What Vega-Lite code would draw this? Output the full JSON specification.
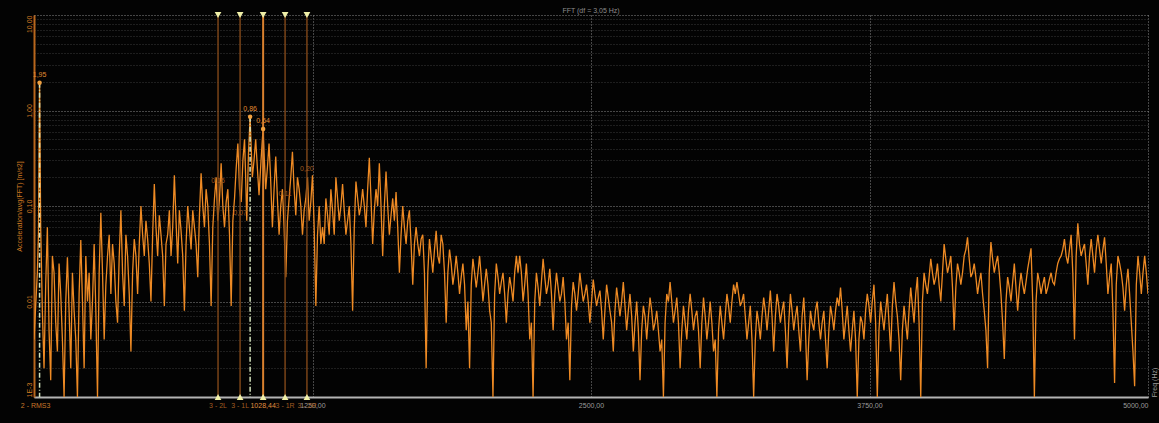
{
  "$schema": "https://vega.github.io/schema/vega-lite/v6.json",
  "width": 1114,
  "height": 382,
  "autosize": {"type": "none"},
  "padding": {"left": 34, "top": 15, "right": 11, "bottom": 26},
  "background": "#030303",
  "config": {"view": {"stroke": null}, "font": "Liberation Sans"},
  "title": {"text": "FFT (df = 3,05 Hz)", "fontSize": 7, "color": "#8c8c8c", "fontWeight": "normal", "offset": -2, "anchor": "middle", "frame": "group"},
  "datasets": {
    "fft": [
      {"f":0,"a":0.004},{"f":7.5,"a":0.009},{"f":15,"a":0.02},{"f":20,"a":0.05},{"f":25,"a":1.95},{"f":30,"a":0.06},{"f":37.5,"a":0.008},{"f":45,"a":0.002},{"f":52.5,"a":0.015},{"f":60,"a":0.06},{"f":67.5,"a":0.005},{"f":75,"a":0.0015},{"f":82.5,"a":0.03},{"f":90,"a":0.02},{"f":97.5,"a":0.006},{"f":105,"a":0.003},{"f":112.5,"a":0.025},{"f":120,"a":0.012},{"f":127.5,"a":0.004},{"f":135,"a":0.001},{"f":142.5,"a":0.01},{"f":150,"a":0.029},{"f":157.5,"a":0.008},{"f":165,"a":0.002},{"f":172.5,"a":0.02},{"f":180,"a":0.008},{"f":187.5,"a":0.004},{"f":195,"a":0.001},{"f":202.5,"a":0.012},{"f":210,"a":0.044},{"f":217.5,"a":0.01},{"f":225,"a":0.002},{"f":232.5,"a":0.03},{"f":240,"a":0.01},{"f":247.5,"a":0.02},{"f":255,"a":0.004},{"f":262.5,"a":0.01},{"f":270,"a":0.04},{"f":277.5,"a":0.008},
      {"f":285,"a":0.001},{"f":292.5,"a":0.02},{"f":300,"a":0.085},{"f":307.5,"a":0.02},{"f":315,"a":0.004},{"f":322.5,"a":0.015},{"f":330,"a":0.03},{"f":337.5,"a":0.05},{"f":345,"a":0.012},{"f":352.5,"a":0.04},{"f":360,"a":0.025},{"f":367.5,"a":0.01},{"f":375,"a":0.006},{"f":382.5,"a":0.03},{"f":390,"a":0.09},{"f":397.5,"a":0.02},{"f":405,"a":0.009},{"f":412.5,"a":0.05},{"f":420,"a":0.03},{"f":427.5,"a":0.012},{"f":435,"a":0.003},{"f":442.5,"a":0.02},
      {"f":450,"a":0.045},{"f":457.5,"a":0.03},{"f":465,"a":0.012},{"f":472.5,"a":0.04},{"f":480,"a":0.1},{"f":487.5,"a":0.05},{"f":495,"a":0.03},{"f":502.5,"a":0.07},{"f":510,"a":0.045},{"f":517.5,"a":0.025},{"f":525,"a":0.01},{"f":532.5,"a":0.05},{"f":540,"a":0.17},{"f":547.5,"a":0.06},{"f":555,"a":0.03},{"f":562.5,"a":0.08},{"f":570,"a":0.05},{"f":577.5,"a":0.03},{"f":585,"a":0.009},{"f":592.5,"a":0.04},{"f":600,"a":0.05},{"f":607.5,"a":0.09},{"f":615,"a":0.03},{"f":622.5,"a":0.06},{"f":630,"a":0.21},{"f":637.5,"a":0.07},{"f":645,"a":0.025},{"f":652.5,"a":0.09},{"f":660,"a":0.055},{"f":667.5,"a":0.03},{"f":675,"a":0.008},{"f":682.5,"a":0.04},{"f":690,"a":0.1},{"f":697.5,"a":0.06},{"f":705,"a":0.035},{"f":712.5,"a":0.09},{"f":720,"a":0.06},{"f":727.5,"a":0.04},{"f":735,"a":0.018},{"f":742.5,"a":0.08},
      {"f":750,"a":0.22},{"f":757.5,"a":0.1},{"f":765,"a":0.06},{"f":772.5,"a":0.15},{"f":780,"a":0.1},{"f":787.5,"a":0.04},{"f":795,"a":0.009},{"f":802.5,"a":0.06},{"f":810,"a":0.12},{"f":817.5,"a":0.2},{"f":825,"a":0.07},{"f":832.5,"a":0.12},{"f":840,"a":0.28},{"f":847.5,"a":0.1},{"f":855,"a":0.06},{"f":862.5,"a":0.11},{"f":870,"a":0.15},{"f":877.5,"a":0.05},{"f":885,"a":0.009},{"f":892.5,"a":0.07},
      {"f":900,"a":0.12},{"f":907.5,"a":0.25},{"f":915,"a":0.45},{"f":922.5,"a":0.15},{"f":930,"a":0.11},{"f":937.5,"a":0.3},{"f":945,"a":0.5},{"f":950,"a":0.2},{"f":955,"a":0.07},{"f":962.5,"a":0.35},{"f":970,"a":0.86},{"f":975,"a":0.4},{"f":980,"a":0.2},{"f":987.5,"a":0.3},{"f":995,"a":0.5},{"f":1002.5,"a":0.25},{"f":1010,"a":0.13},{"f":1019,"a":0.3},{"f":1028,"a":0.64},{"f":1034,"a":0.3},{"f":1040,"a":0.15},{"f":1047.5,"a":0.25},{"f":1055,"a":0.45},{"f":1062.5,"a":0.18},{"f":1070,"a":0.06},{"f":1077.5,"a":0.15},
      {"f":1085,"a":0.33},{"f":1092.5,"a":0.12},{"f":1100,"a":0.05},{"f":1107.5,"a":0.1},{"f":1115,"a":0.15},{"f":1122.5,"a":0.06},{"f":1130,"a":0.018},{"f":1137.5,"a":0.07},{"f":1145,"a":0.12},{"f":1152.5,"a":0.2},{"f":1160,"a":0.37},{"f":1167.5,"a":0.15},{"f":1175,"a":0.08},{"f":1182.5,"a":0.2},{"f":1190,"a":0.15},{"f":1197.5,"a":0.1},{"f":1205,"a":0.05},{"f":1212.5,"a":0.09},{"f":1220,"a":0.12},{"f":1227.5,"a":0.2},{"f":1235,"a":0.07},{"f":1242.5,"a":0.11},{"f":1250,"a":0.21},{"f":1257.5,"a":0.06},{"f":1265,"a":0.009},{"f":1272.5,"a":0.05},{"f":1280,"a":0.1},{"f":1287.5,"a":0.04},
      {"f":1295,"a":0.06},{"f":1302.5,"a":0.04},{"f":1310,"a":0.12},{"f":1317.5,"a":0.08},{"f":1325,"a":0.05},{"f":1332.5,"a":0.15},{"f":1340,"a":0.09},{"f":1347.5,"a":0.05},{"f":1355,"a":0.2},{"f":1362.5,"a":0.12},{"f":1370,"a":0.07},{"f":1377.5,"a":0.1},{"f":1385,"a":0.17},{"f":1392.5,"a":0.09},{"f":1400,"a":0.05},{"f":1407.5,"a":0.07},{"f":1415,"a":0.1},{"f":1422.5,"a":0.04},{"f":1430,"a":0.008},{"f":1437.5,"a":0.06},{"f":1445,"a":0.18},{"f":1452.5,"a":0.12},{"f":1460,"a":0.08},{"f":1467.5,"a":0.1},{"f":1475,"a":0.15},{"f":1482.5,"a":0.1},{"f":1490,"a":0.06},{"f":1497.5,"a":0.15},{"f":1505,"a":0.32},{"f":1512.5,"a":0.12},{"f":1520,"a":0.04},{"f":1527.5,"a":0.09},{"f":1535,"a":0.15},{"f":1542.5,"a":0.1},{"f":1550,"a":0.28},{"f":1557.5,"a":0.1},{"f":1565,"a":0.03},{"f":1572.5,"a":0.1},{"f":1580,"a":0.23},{"f":1587.5,"a":0.1},{"f":1595,"a":0.05},{"f":1602.5,"a":0.08},{"f":1610,"a":0.12},{"f":1617.5,"a":0.07},{"f":1625,"a":0.14},{"f":1632.5,"a":0.06},{"f":1640,"a":0.02},{"f":1647.5,"a":0.05},{"f":1655,"a":0.1},{"f":1662.5,"a":0.06},{"f":1670,"a":0.04},{"f":1677.5,"a":0.07},{"f":1685,"a":0.09},{"f":1692.5,"a":0.04},{"f":1700,"a":0.015},{"f":1707.5,"a":0.04},
      {"f":1715,"a":0.06},{"f":1722.5,"a":0.04},{"f":1730,"a":0.03},{"f":1737.5,"a":0.045},{"f":1745,"a":0.05},{"f":1752.5,"a":0.02},{"f":1760,"a":0.002},{"f":1767.5,"a":0.02},{"f":1775,"a":0.045},{"f":1782.5,"a":0.03},{"f":1790,"a":0.02},{"f":1797.5,"a":0.035},{"f":1805,"a":0.055},{"f":1812.5,"a":0.03},{"f":1820,"a":0.025},{"f":1827.5,"a":0.05},{"f":1835,"a":0.04},{"f":1842.5,"a":0.02},{"f":1850,"a":0.006},{"f":1857.5,"a":0.02},{"f":1865,"a":0.035},{"f":1872.5,"a":0.025},{"f":1880,"a":0.015},{"f":1887.5,"a":0.02},
      {"f":1895,"a":0.03},{"f":1902.5,"a":0.02},{"f":1910,"a":0.012},{"f":1917.5,"a":0.018},{"f":1925,"a":0.025},{"f":1932.5,"a":0.015},{"f":1940,"a":0.005},{"f":1947.5,"a":0.01},{"f":1955,"a":0.002},{"f":1962.5,"a":0.015},{"f":1970,"a":0.028},{"f":1977.5,"a":0.02},{"f":1985,"a":0.014},{"f":1992.5,"a":0.02},{"f":2000,"a":0.03},{"f":2007.5,"a":0.018},{"f":2015,"a":0.01},{"f":2022.5,"a":0.015},{"f":2030,"a":0.022},{"f":2037.5,"a":0.015},{"f":2045,"a":0.008},{"f":2052.5,"a":0.006},{"f":2060,"a":0.001},{"f":2067.5,"a":0.012},{"f":2075,"a":0.025},{"f":2082.5,"a":0.018},{"f":2090,"a":0.012},{"f":2097.5,"a":0.016},{"f":2105,"a":0.02},{"f":2112.5,"a":0.012},{"f":2120,"a":0.006},{"f":2127.5,"a":0.012},{"f":2135,"a":0.018},{"f":2142.5,"a":0.014},{"f":2150,"a":0.01},{"f":2157.5,"a":0.02},{"f":2165,"a":0.03},{"f":2172.5,"a":0.02},
      {"f":2180,"a":0.03},{"f":2187.5,"a":0.02},{"f":2195,"a":0.01},{"f":2202.5,"a":0.015},{"f":2210,"a":0.025},{"f":2217.5,"a":0.012},{"f":2225,"a":0.004},{"f":2232.5,"a":0.006},{"f":2240,"a":0.001},{"f":2247.5,"a":0.01},{"f":2255,"a":0.02},{"f":2262.5,"a":0.014},{"f":2270,"a":0.009},{"f":2277.5,"a":0.016},{"f":2285,"a":0.028},{"f":2292.5,"a":0.018},{"f":2300,"a":0.012},{"f":2307.5,"a":0.015},{"f":2315,"a":0.022},{"f":2322.5,"a":0.012},{"f":2330,"a":0.005},{"f":2337.5,"a":0.012},{"f":2345,"a":0.02},{"f":2352.5,"a":0.014},{"f":2360,"a":0.01},{"f":2367.5,"a":0.012},{"f":2375,"a":0.018},{"f":2382.5,"a":0.01},{"f":2390,"a":0.004},{"f":2397.5,"a":0.006},{"f":2405,"a":0.0015},{"f":2412.5,"a":0.009},{"f":2420,"a":0.016},{"f":2427.5,"a":0.012},{"f":2435,"a":0.008},{"f":2442.5,"a":0.012},{"f":2450,"a":0.02},{"f":2457.5,"a":0.014},{"f":2465,"a":0.01},{"f":2472.5,"a":0.012},{"f":2480,"a":0.015},{"f":2487.5,"a":0.01},{"f":2495,"a":0.006},{"f":2502.5,"a":0.01},{"f":2510,"a":0.017},{"f":2517.5,"a":0.012},{"f":2525,"a":0.009},{"f":2532.5,"a":0.011},{"f":2540,"a":0.013},{"f":2547.5,"a":0.008},{"f":2555,"a":0.004},{"f":2562.5,"a":0.008},{"f":2570,"a":0.015},{"f":2577.5,"a":0.011},{"f":2585,"a":0.008},{"f":2592.5,"a":0.006},{"f":2600,"a":0.003},{"f":2607.5,"a":0.008},{"f":2615,"a":0.014},{"f":2622.5,"a":0.01},{"f":2630,"a":0.007},{"f":2637.5,"a":0.01},
      {"f":2645,"a":0.016},{"f":2652.5,"a":0.009},{"f":2660,"a":0.005},{"f":2667.5,"a":0.008},{"f":2675,"a":0.012},{"f":2682.5,"a":0.007},{"f":2690,"a":0.003},{"f":2697.5,"a":0.006},{"f":2705,"a":0.01},{"f":2712.5,"a":0.005},{"f":2720,"a":0.0015},{"f":2727.5,"a":0.005},{"f":2735,"a":0.009},{"f":2742.5,"a":0.007},{"f":2750,"a":0.004},{"f":2757.5,"a":0.007},{"f":2765,"a":0.011},{"f":2772.5,"a":0.008},{"f":2780,"a":0.005},{"f":2787.5,"a":0.006},{"f":2795,"a":0.008},{"f":2802.5,"a":0.005},{"f":2810,"a":0.003},{"f":2817.5,"a":0.004},{"f":2825,"a":0.001},{"f":2832.5,"a":0.006},{"f":2840,"a":0.012},{"f":2847.5,"a":0.01},{"f":2855,"a":0.016},{"f":2862.5,"a":0.01},{"f":2870,"a":0.006},{"f":2877.5,"a":0.008},{"f":2885,"a":0.011},{"f":2892.5,"a":0.006},{"f":2900,"a":0.002},{"f":2907.5,"a":0.005},{"f":2915,"a":0.009},{"f":2922.5,"a":0.006},{"f":2930,"a":0.004},{"f":2937.5,"a":0.008},{"f":2945,"a":0.012},{"f":2952.5,"a":0.008},{"f":2960,"a":0.005},{"f":2967.5,"a":0.007},{"f":2975,"a":0.008},{"f":2982.5,"a":0.005},{"f":2990,"a":0.002},{"f":2997.5,"a":0.006},{"f":3005,"a":0.011},{"f":3012.5,"a":0.007},{"f":3020,"a":0.004},{"f":3027.5,"a":0.006},{"f":3035,"a":0.01},{"f":3042.5,"a":0.006},{"f":3050,"a":0.003},{"f":3057.5,"a":0.004},{"f":3065,"a":0.001},{"f":3072.5,"a":0.005},{"f":3080,"a":0.009},{"f":3087.5,"a":0.006},{"f":3095,"a":0.004},{"f":3102.5,"a":0.007},{"f":3110,"a":0.012},{"f":3117.5,"a":0.009},{"f":3125,"a":0.006},{"f":3132.5,"a":0.01},{"f":3140,"a":0.015},{"f":3147.5,"a":0.012},{"f":3155,"a":0.016},{"f":3162.5,"a":0.012},{"f":3170,"a":0.009},{"f":3177.5,"a":0.01},{"f":3185,"a":0.012},{"f":3192.5,"a":0.007},{"f":3200,"a":0.004},{"f":3207.5,"a":0.006},{"f":3215,"a":0.009},{"f":3222.5,"a":0.004},{"f":3230,"a":0.001},{"f":3237.5,"a":0.004},{"f":3245,"a":0.008},{"f":3252.5,"a":0.006},{"f":3260,"a":0.004},{"f":3267.5,"a":0.007},{"f":3275,"a":0.011},{"f":3282.5,"a":0.008},{"f":3290,"a":0.005},{"f":3297.5,"a":0.008},{"f":3305,"a":0.013},{"f":3312.5,"a":0.007},{"f":3320,"a":0.003},{"f":3327.5,"a":0.007},{"f":3335,"a":0.012},{"f":3342.5,"a":0.009},{"f":3350,"a":0.006},{"f":3357.5,"a":0.008},{"f":3365,"a":0.01},{"f":3372.5,"a":0.005},{"f":3380,"a":0.002},{"f":3387.5,"a":0.006},{"f":3395,"a":0.012},{"f":3402.5,"a":0.008},{"f":3410,"a":0.005},{"f":3417.5,"a":0.007},{"f":3425,"a":0.009},{"f":3432.5,"a":0.005},{"f":3440,"a":0.003},{"f":3447.5,"a":0.007},{"f":3455,"a":0.011},{"f":3462.5,"a":0.005},{"f":3470,"a":0.0015},{"f":3477.5,"a":0.004},{"f":3485,"a":0.008},{"f":3492.5,"a":0.006},{"f":3500,"a":0.005},{"f":3507.5,"a":0.008},{"f":3515,"a":0.01},{"f":3522.5,"a":0.006},{"f":3530,"a":0.004},{"f":3537.5,"a":0.006},{"f":3545,"a":0.008},{"f":3552.5,"a":0.004},{"f":3560,"a":0.002},{"f":3567.5,"a":0.005},{"f":3575,"a":0.009},{"f":3582.5,"a":0.007},{"f":3590,"a":0.005},{"f":3597.5,"a":0.008},{"f":3605,"a":0.011},{"f":3612.5,"a":0.009},{"f":3620,"a":0.014},{"f":3627.5,"a":0.008},{"f":3635,"a":0.004},{"f":3642.5,"a":0.006},{"f":3650,"a":0.009},{"f":3657.5,"a":0.005},{"f":3665,"a":0.003},{"f":3672.5,"a":0.005},{"f":3680,"a":0.008},{"f":3687.5,"a":0.004},{"f":3695,"a":0.001},{"f":3702.5,"a":0.004},{"f":3710,"a":0.007},{"f":3717.5,"a":0.006},{"f":3725,"a":0.004},{"f":3732.5,"a":0.008},{"f":3740,"a":0.012},{"f":3747.5,"a":0.009},
      {"f":3755,"a":0.006},{"f":3762.5,"a":0.01},{"f":3770,"a":0.015},{"f":3777.5,"a":0.006},{"f":3785,"a":0.001},{"f":3792.5,"a":0.005},{"f":3800,"a":0.01},{"f":3807.5,"a":0.007},{"f":3815,"a":0.005},{"f":3822.5,"a":0.008},{"f":3830,"a":0.012},{"f":3837.5,"a":0.006},{"f":3845,"a":0.003},{"f":3852.5,"a":0.009},{"f":3860,"a":0.016},{"f":3867.5,"a":0.01},{"f":3875,"a":0.007},{"f":3882.5,"a":0.004},{"f":3890,"a":0.0015},{"f":3897.5,"a":0.005},{"f":3905,"a":0.009},{"f":3912.5,"a":0.006},{"f":3920,"a":0.004},{"f":3927.5,"a":0.008},{"f":3935,"a":0.014},{"f":3942.5,"a":0.009},
      {"f":3950,"a":0.006},{"f":3957.5,"a":0.012},{"f":3965,"a":0.018},{"f":3972.5,"a":0.006},{"f":3980,"a":0.001},{"f":3987.5,"a":0.01},{"f":3995,"a":0.02},{"f":4002.5,"a":0.015},{"f":4010,"a":0.012},{"f":4017.5,"a":0.018},{"f":4025,"a":0.028},{"f":4032.5,"a":0.02},{"f":4040,"a":0.015},{"f":4047.5,"a":0.018},{"f":4055,"a":0.025},{"f":4062.5,"a":0.015},{"f":4070,"a":0.01},{"f":4077.5,"a":0.02},{"f":4085,"a":0.04},{"f":4092.5,"a":0.028},{"f":4100,"a":0.02},{"f":4107.5,"a":0.024},{"f":4115,"a":0.03},{"f":4122.5,"a":0.014},{"f":4130,"a":0.005},{"f":4137.5,"a":0.014},{"f":4145,"a":0.025},{"f":4152.5,"a":0.02},{"f":4160,"a":0.015},{"f":4167.5,"a":0.02},{"f":4175,"a":0.03},{"f":4182.5,"a":0.035},{"f":4190,"a":0.047},{"f":4197.5,"a":0.028},{"f":4205,"a":0.018},{"f":4212.5,"a":0.02},{"f":4220,"a":0.025},{"f":4227.5,"a":0.018},{"f":4235,"a":0.012},{"f":4242.5,"a":0.016},{"f":4250,"a":0.02},{"f":4257.5,"a":0.012},{"f":4265,"a":0.008},{"f":4272.5,"a":0.005},{"f":4280,"a":0.002},{"f":4287.5,"a":0.02},{"f":4295,"a":0.042},{"f":4302.5,"a":0.028},{"f":4310,"a":0.02},{"f":4317.5,"a":0.025},{"f":4325,"a":0.03},{"f":4332.5,"a":0.02},
      {"f":4340,"a":0.012},{"f":4347.5,"a":0.006},{"f":4355,"a":0.0025},{"f":4362.5,"a":0.01},{"f":4370,"a":0.018},{"f":4377.5,"a":0.014},{"f":4385,"a":0.01},{"f":4392.5,"a":0.016},{"f":4400,"a":0.025},{"f":4407.5,"a":0.014},{"f":4415,"a":0.008},{"f":4422.5,"a":0.014},{"f":4430,"a":0.02},{"f":4437.5,"a":0.015},{"f":4445,"a":0.012},{"f":4452.5,"a":0.016},{"f":4460,"a":0.022},{"f":4467.5,"a":0.028},{"f":4475,"a":0.036},{"f":4482.5,"a":0.01},{"f":4490,"a":0.001},{"f":4497.5,"a":0.01},{"f":4505,"a":0.02},{"f":4512.5,"a":0.016},{"f":4520,"a":0.012},{"f":4527.5,"a":0.015},{"f":4535,"a":0.018},{"f":4542.5,"a":0.012},{"f":4550,"a":0.014},{"f":4557.5,"a":0.017},{"f":4565,"a":0.02},{"f":4572.5,"a":0.016},{"f":4580,"a":0.015},{"f":4587.5,"a":0.02},{"f":4595,"a":0.025},{"f":4602.5,"a":0.028},
      {"f":4610,"a":0.03},{"f":4617.5,"a":0.035},{"f":4625,"a":0.045},{"f":4632.5,"a":0.03},{"f":4640,"a":0.025},{"f":4647.5,"a":0.035},{"f":4655,"a":0.05},{"f":4662.5,"a":0.02},{"f":4670,"a":0.004},{"f":4677.5,"a":0.03},{"f":4685,"a":0.066},{"f":4692.5,"a":0.04},{"f":4700,"a":0.03},{"f":4707.5,"a":0.035},{"f":4715,"a":0.04},{"f":4722.5,"a":0.025},{"f":4730,"a":0.015},{"f":4737.5,"a":0.03},{"f":4745,"a":0.045},{"f":4752.5,"a":0.03},{"f":4760,"a":0.02},{"f":4767.5,"a":0.035},{"f":4775,"a":0.05},{"f":4782.5,"a":0.035},{"f":4790,"a":0.025},{"f":4797.5,"a":0.035},
      {"f":4805,"a":0.047},{"f":4812.5,"a":0.025},{"f":4820,"a":0.012},{"f":4827.5,"a":0.018},{"f":4835,"a":0.025},{"f":4842.5,"a":0.008},{"f":4850,"a":0.0014},{"f":4857.5,"a":0.015},{"f":4865,"a":0.03},{"f":4872.5,"a":0.025},{"f":4880,"a":0.02},{"f":4887.5,"a":0.014},{"f":4895,"a":0.008},{"f":4902.5,"a":0.015},{"f":4910,"a":0.022},{"f":4917.5,"a":0.012},{"f":4925,"a":0.006},{"f":4932.5,"a":0.003},{"f":4940,"a":0.0013},{"f":4947.5,"a":0.015},{"f":4955,"a":0.03},{"f":4962.5,"a":0.02},{"f":4970,"a":0.012},{"f":4977.5,"a":0.02},{"f":4985,"a":0.03},{"f":4992.5,"a":0.02},{"f":5000,"a":0.012}
    ],
    "cursors": [
      {"f":826,"a":0.15,"lbl":"0,15","name":"3 - 2L","main":false},
      {"f":925,"a":0.07,"lbl":"0,07","name":"3 - 1L","main":false},
      {"f":1028.44,"a":0.64,"lbl":"0,64","name":"1028,44","main":true},
      {"f":1127,"a":0.11,"lbl":"0,11","name":"3 - 1R","main":false},
      {"f":1225,"a":0.2,"lbl":"0,20","name":"3 - 2R","main":false}
    ],
    "peaks": [
      {"f":25,"a":1.95,"lbl":"1,95","name":"2 - RMS3"},
      {"f":970,"a":0.86,"lbl":"0,86","name":""}
    ]
  },
  "layer": [
    {
      "data": {"name": "fft"},
      "mark": {"type": "line", "color": "#ee8a24", "strokeWidth": 1.3, "clip": true},
      "encoding": {
        "x": {"field": "f", "type": "quantitative", "scale": {"domain": [0, 5000], "nice": false, "zero": false},
          "axis": {"title": "Freq (Hz)", "values": [0, 1250, 2500, 3750, 5000],
            "labelExpr": "datum.value == 0 ? '' : replace(format(datum.value, '.2f'), '.', ',')",
            "labelColor": "#9c9c9c", "labelFontSize": 7, "labelFlush": true, "labelPadding": 4, "ticks": false,
            "domainColor": "#b4b4b4", "domainWidth": 2, "gridColor": "#8a8a8a", "gridDash": [1, 2],
            "titleAngle": 270, "titleX": 1120, "titleY": -15, "titleAlign": "center", "titleBaseline": "middle",
            "titleColor": "#9c9c9c", "titleFontSize": 7, "titleFontWeight": "normal"}},
        "y": {"field": "a", "type": "quantitative", "scale": {"type": "log", "domain": [0.001, 10], "nice": false},
          "axis": {"title": "Acceleration/avg(FFT) [m/s2]",
            "values": [0.001,0.002,0.003,0.004,0.005,0.006,0.007,0.008,0.009,0.01,0.02,0.03,0.04,0.05,0.06,0.07,0.08,0.09,0.1,0.2,0.3,0.4,0.5,0.6,0.7,0.8,0.9,1,2,3,4,5,6,7,8,9,10],
            "labelExpr": "datum.value == 0.001 ? '1E-3' : (indexof([0.01,0.1,1,10], datum.value) >= 0 ? replace(format(datum.value, '.2f'), '.', ',') : '')",
            "labelAngle": 270, "labelColor": "#d07a22", "labelFontSize": 7, "labelPadding": 2, "labelOverlap": false,
            "labelAlign": {"condition": [{"test": "datum.value >= 10", "value": "right"}, {"test": "datum.value <= 0.001", "value": "left"}], "value": "center"},
            "labelBaseline": "bottom",
            "ticks": false, "domainColor": "#b8661c", "domainWidth": 2,
            "gridColor": {"condition": {"test": "indexof([0.001,0.01,0.1,1,10], datum.value) >= 0", "value": "#8a8a8a"}, "value": "#3a3a3a"},
            "gridDash": [1, 2],
            "titleColor": "#d07a22", "titleFontSize": 7, "titleFontWeight": "normal", "titlePadding": 3}}
      }
    },
    {
      "data": {"name": "cursors"},
      "mark": {"type": "rule"},
      "encoding": {
        "x": {"field": "f", "type": "quantitative"},
        "color": {"condition": {"test": "datum.main", "value": "#d9802e"}, "value": "#7a4418"},
        "strokeWidth": {"condition": {"test": "datum.main", "value": 2}, "value": 1.5}
      }
    },
    {
      "data": {"name": "peaks"},
      "mark": {"type": "rule", "color": "#d4e4bc", "strokeWidth": 1.5, "strokeDash": [5, 2, 1, 2]},
      "encoding": {
        "x": {"field": "f", "type": "quantitative"},
        "y": {"field": "a", "type": "quantitative"},
        "y2": {"datum": 0.001}
      }
    },
    {
      "data": {"name": "cursors"},
      "mark": {"type": "point", "shape": "triangle-down", "filled": true, "color": "#f0f0a8", "size": 45, "opacity": 1},
      "encoding": {"x": {"field": "f", "type": "quantitative"}, "y": {"datum": 10}}
    },
    {
      "data": {"name": "cursors"},
      "mark": {"type": "point", "shape": "triangle-up", "filled": true, "color": "#f0f0a8", "size": 45, "opacity": 1},
      "encoding": {"x": {"field": "f", "type": "quantitative"}, "y": {"datum": 0.001}}
    },
    {
      "data": {"name": "peaks"},
      "mark": {"type": "point", "filled": true, "color": "#f0a040", "size": 20, "opacity": 1},
      "encoding": {"x": {"field": "f", "type": "quantitative"}, "y": {"field": "a", "type": "quantitative"}}
    },
    {
      "data": {"name": "cursors"},
      "transform": [{"filter": "datum.main"}],
      "mark": {"type": "point", "filled": true, "color": "#f0a040", "size": 20, "opacity": 1},
      "encoding": {"x": {"field": "f", "type": "quantitative"}, "y": {"field": "a", "type": "quantitative"}}
    },
    {
      "data": {"name": "peaks"},
      "mark": {"type": "text", "color": "#e08a30", "fontSize": 7, "dy": -8, "align": "center"},
      "encoding": {"x": {"field": "f", "type": "quantitative"}, "y": {"field": "a", "type": "quantitative"}, "text": {"field": "lbl"}}
    },
    {
      "data": {"name": "cursors"},
      "mark": {"type": "text", "fontSize": 7, "dy": -8, "align": "center"},
      "encoding": {"x": {"field": "f", "type": "quantitative"}, "y": {"field": "a", "type": "quantitative"}, "text": {"field": "lbl"},
        "color": {"condition": {"test": "datum.main", "value": "#e08a30"}, "value": "#a05a20"}}
    },
    {
      "data": {"name": "cursors"},
      "mark": {"type": "text", "fontSize": 7, "dy": 9, "align": "center", "baseline": "middle"},
      "encoding": {"x": {"field": "f", "type": "quantitative"}, "y": {"datum": 0.001}, "text": {"field": "name"},
        "color": {"condition": {"test": "datum.main", "value": "#e09040"}, "value": "#a25c22"}}
    },
    {
      "data": {"name": "peaks"},
      "transform": [{"filter": "datum.name != ''"}],
      "mark": {"type": "text", "fontSize": 7, "dy": 9, "dx": -4, "align": "center", "baseline": "middle", "color": "#c8782a"},
      "encoding": {"x": {"field": "f", "type": "quantitative"}, "y": {"datum": 0.001}, "text": {"field": "name"}}
    },
    {
      "mark": {"type": "rule", "color": "#a8a8a8", "strokeWidth": 1.5},
      "encoding": {"x": {"datum": 5000}}
    }
  ]
}
